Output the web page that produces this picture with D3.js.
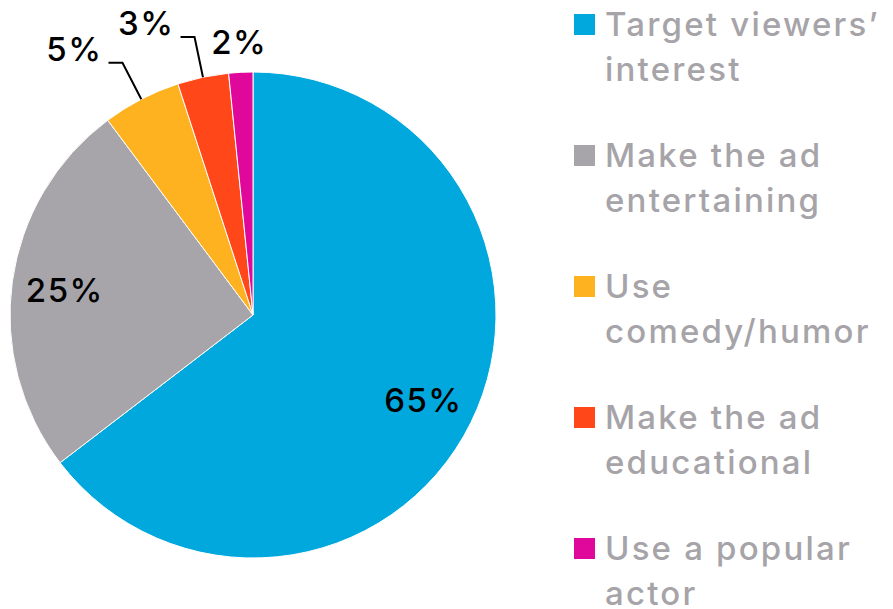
<!DOCTYPE html>
<html>
<head>
<meta charset="utf-8">
<script src="https://cdn.jsdelivr.net/npm/d3@7"></script>
<style>
  body { margin: 0; background: #fff; }
  svg text { font-family: Inter, "Noto Sans", sans-serif; }
</style>
</head>
<body>
<svg id="chart" width="893" height="609"></svg>
<script>
// slices, clockwise from 12 o'clock
const categories = ["Target viewers\u2019 interest", "Make the ad entertaining", "Use comedy/humor", "Make the ad educational", "Use a popular actor"];
const legendLines = [["Target viewers\u2019", "interest"], ["Make the ad", "entertaining"], ["Use", "comedy/humor"], ["Make the ad", "educational"], ["Use a popular", "actor"]];
const values = [64.6, 25.2, 5.2, 3.4, 1.6];
const valueLabels = ["65%", "25%", "5%", "3%", "2%"];
const colors = ["#00a8de", "#a7a5aa", "#ffb21f", "#ff4719", "#e0079b"];

const svg = d3.select("#chart");
const cx = 253, cy = 315, radius = 243;

const g = svg.append("g").attr("transform", `translate(${cx}, ${cy})`);

const pie = d3.pie().sort(null).value(d => d);
const arcs = pie(values);

const arc = d3.arc().innerRadius(0).outerRadius(radius);
const labelArc = d3.arc().innerRadius(190).outerRadius(190);
const edgeArc = d3.arc().innerRadius(radius).outerRadius(radius);
const kneeArc = d3.arc().innerRadius(284).outerRadius(284);
const farArc = d3.arc().innerRadius(272).outerRadius(272);

g.selectAll("path.slice")
  .data(arcs)
  .join("path")
  .attr("class", "slice")
  .attr("d", arc)
  .attr("fill", (d, i) => colors[i])
  .attr("stroke", "#fff")
  .attr("stroke-width", 1);

// labels
arcs.forEach(function(d, i) {
  const big = d.value > 10;
  const last = i === arcs.length - 1;
  if (big || last) {
    const [x, y] = (big ? labelArc : farArc).centroid(d);
    g.append("text")
      .attr("x", x).attr("y", y + (big ? 13 : 11))
      .attr("text-anchor", "middle")
      .attr("font-size", 33)
      .attr("font-weight", 500)
      .attr("letter-spacing", "1.5px")
      .attr("fill", "#000")
      .text(valueLabels[i]);
  } else {
    const p0 = edgeArc.centroid(d);
    const p1 = kneeArc.centroid(d);
    const p2 = [p1[0] - 14, p1[1]];
    g.append("polyline")
      .attr("points", [p0, p1, p2].map(p => p.join(",")).join(" "))
      .attr("fill", "none")
      .attr("stroke", "#000")
      .attr("stroke-width", 2);
    g.append("text")
      .attr("x", p2[0] - 6).attr("y", p2[1] - 2)
      .attr("text-anchor", "end")
      .attr("font-size", 33)
      .attr("font-weight", 500)
      .attr("letter-spacing", "1.5px")
      .attr("fill", "#000")
      .text(valueLabels[i]);
  }
});

// legend
const legend = svg.append("g").attr("transform", "translate(574, 14)");
const item = legend.selectAll("g.item")
  .data(categories)
  .join("g")
  .attr("class", "item")
  .attr("transform", (d, i) => `translate(0, ${i * 131})`);

item.append("rect")
  .attr("width", 21).attr("height", 21)
  .attr("fill", (d, i) => colors[i]);

item.each(function(d, i) {
  const t = d3.select(this).append("text")
    .attr("x", 31).attr("y", 22)
    .attr("font-size", 33)
    .attr("font-weight", 500)
    .attr("letter-spacing", "2.2px")
    .attr("fill", "#a6a4a8");
  legendLines[i].forEach((line, j) => {
    t.append("tspan").attr("x", 31).attr("dy", j === 0 ? 0 : 45).text(line);
  });
});
</script>
</body>
</html>
